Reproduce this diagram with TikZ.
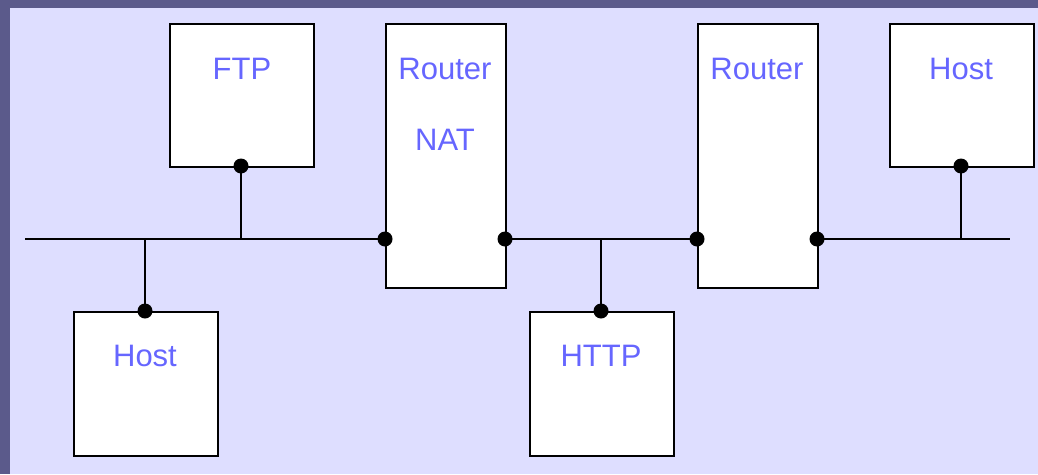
\documentclass[tikz,border=0pt]{standalone}
\usepackage{fontspec}
\setmainfont{Liberation Sans}
\definecolor{frame}{HTML}{5B5A8B}
\definecolor{panel}{HTML}{DEDEFF}
\definecolor{lbl}{HTML}{6666FF}
\begin{document}
\begin{tikzpicture}[x=1pt,y=-1pt,
  box/.style={draw=black,fill=white,line width=1.6pt,anchor=north west,inner sep=0pt},
  lab/.style={text=lbl,font=\fontsize{31}{31}\selectfont,anchor=center,inner sep=0pt},
  wire/.style={line width=1.6pt,draw=black},
  dot/.style={circle,fill=black,minimum size=15pt,inner sep=0pt}]
\useasboundingbox (0,0) rectangle (1038,474);
\fill[frame] (0,0) rectangle (1038,474);
\fill[panel] (10,8) rectangle (1038,474);
% boxes
\node[box,minimum width=144pt,minimum height=143pt] (ftp) at (169,23) {};
\node[box,minimum width=120pt,minimum height=264pt] (nat) at (385,23) {};
\node[box,minimum width=120pt,minimum height=264pt] (rt) at (697,23) {};
\node[box,minimum width=144pt,minimum height=143pt] (hr) at (889,23) {};
\node[box,minimum width=144pt,minimum height=144pt] (hl) at (73,311) {};
\node[box,minimum width=144pt,minimum height=144pt] (http) at (529,311) {};
% labels
\node[lab] (tftp) at (242,69) {FTP};
\node[lab] (tnat1) at (445,69) {Router};
\node[lab] (tnat2) at (445,140) {NAT};
\node[lab] (trt) at (757,69) {Router};
\node[lab] (thr) at (961,69) {Host};
\node[lab] (thl) at (145,356) {Host};
\node[lab] (thttp) at (601,356) {HTTP};
% coordinates
\coordinate (l0) at (25,239);
\coordinate (l1) at (1010,239);
\coordinate (a1) at (145,239);
\coordinate (a2) at (241,239);
\coordinate (a3) at (601,239);
\coordinate (a4) at (961,239);
\coordinate (natL) at (385,239);
\coordinate (natR) at (505,239);
\coordinate (rtL) at (697,239);
\coordinate (rtR) at (817,239);
\coordinate (ftpB) at (241,166);
\coordinate (hrB) at (961,166);
\coordinate (hlT) at (145,311);
\coordinate (httpT) at (601,311);
% wires
\draw[wire] (l0) -- (natL);
\draw[wire] (natR) -- (rtL);
\draw[wire] (rtR) -- (l1);
\draw[wire] (a1) -- (hlT);
\draw[wire] (a2) -- (ftpB);
\draw[wire] (a3) -- (httpT);
\draw[wire] (a4) -- (hrB);
% dots
\foreach \p in {natL,natR,rtL,rtR,ftpB,hrB,hlT,httpT}
  \node[dot] at (\p) {};
\end{tikzpicture}
\end{document}
